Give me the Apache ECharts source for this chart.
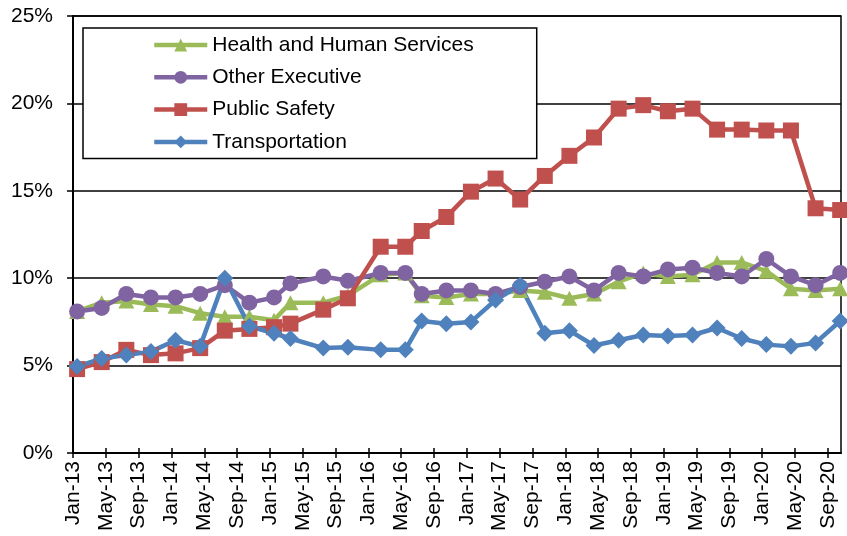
<!DOCTYPE html>
<html><head><meta charset="utf-8">
<script src="https://cdn.jsdelivr.net/npm/echarts@6/dist/echarts.min.js"></script>
<style>html,body{margin:0;padding:0;background:#fff}#c{width:847px;height:536px}</style>
</head><body><div id="c"></div>
<script>
// Observation months (points sit mid-month)
const dates = ['2013-01','2013-04','2013-07','2013-10','2014-01','2014-04','2014-07','2014-10',
  '2015-01','2015-03','2015-07','2015-10','2016-02','2016-05','2016-07','2016-10',
  '2017-01','2017-04','2017-07','2017-10','2018-01','2018-04','2018-07','2018-10',
  '2019-01','2019-04','2019-07','2019-10','2020-01','2020-04','2020-07','2020-10'];
const seriesNames = ['Health and Human Services','Other Executive','Public Safety','Transportation'];
const healthHumanServices = [8.1,8.6,8.7,8.5,8.4,8.0,7.8,7.8,7.6,8.6,8.6,9.0,10.2,10.3,9.0,8.9,
  9.1,9.1,9.3,9.2,8.85,9.1,9.8,10.3,10.1,10.2,10.9,10.9,10.4,9.4,9.3,9.4];
const otherExecutive = [8.1,8.3,9.1,8.9,8.9,9.1,9.6,8.6,8.9,9.7,10.1,9.85,10.3,10.3,9.1,9.3,
  9.3,9.1,9.5,9.8,10.1,9.3,10.3,10.1,10.5,10.6,10.3,10.1,11.1,10.1,9.6,10.3];
const publicSafety = [4.8,5.2,5.9,5.6,5.7,6.0,7.0,7.1,7.2,7.4,8.2,8.85,11.8,11.8,12.7,13.5,
  14.95,15.7,14.5,15.85,17.0,18.05,19.7,19.9,19.55,19.7,18.5,18.5,18.45,18.45,14.0,13.9];
const transportation = [4.95,5.4,5.6,5.8,6.45,6.1,10.0,7.25,6.85,6.55,6.0,6.05,5.9,5.9,7.55,7.4,
  7.5,8.75,9.6,6.85,7.0,6.15,6.45,6.75,6.7,6.75,7.15,6.55,6.2,6.1,6.3,7.55];
const xTickLabels = ['Jan-13','May-13','Sep-13','Jan-14','May-14','Sep-14','Jan-15','May-15','Sep-15',
  'Jan-16','May-16','Sep-16','Jan-17','May-17','Sep-17','Jan-18','May-18','Sep-18',
  'Jan-19','May-19','Sep-19','Jan-20','May-20','Sep-20'];
const yTickLabels = ['0%','5%','10%','15%','20%','25%'];

const monthNames = ['Jan','Feb','Mar','Apr','May','Jun','Jul','Aug','Sep','Oct','Nov','Dec'];
function monthIndexFromDate(s){ const [y,m]=s.split('-').map(Number); return (y-2013)*12+(m-1); }
function monthIndexFromLabel(s){ const [mn,yy]=s.split('-'); return (Number(yy)-13)*12+monthNames.indexOf(mn); }
const tickVals = xTickLabels.map(monthIndexFromLabel);
const labelFor = {}; xTickLabels.forEach((l,i)=>labelFor[tickVals[i]]=l);

const colors = ['#9BBB59','#8064A2','#C0504D','#4F81BD'];
const symbols = ['triangle','circle','rect','diamond'];
const sizes = [[16,15],16,[16,16],[17,17]];
const valuesList = [healthHumanServices, otherExecutive, publicSafety, transportation];

const font = 'Liberation Sans, Arial, sans-serif';
const chart = echarts.init(document.getElementById('c'), null, {renderer:'canvas'});
const xCommon = {type:'value', min:0, max:93.6, position:'bottom', gridIndex:0};
chart.setOption({
  backgroundColor:'#fff',
  animation:false,
  textStyle:{fontFamily:font},
  grid:{left:73, right:6, top:16, bottom:83, show:true, borderColor:'#000', borderWidth:1.5, backgroundColor:'transparent'},
  legend:{
    orient:'vertical', left:83, top:28,
    padding:[6.5,63,6,69], itemGap:11.3, itemWidth:53, itemHeight:16,
    backgroundColor:'#fff', borderColor:'#000', borderWidth:1.5,
    lineStyle:{width:4.5},
    textStyle:{fontSize:21, lineHeight:21, color:'#000', fontFamily:font},
    data:seriesNames
  },
  xAxis:[
    Object.assign({}, xCommon, {
      axisLine:{lineStyle:{color:'#000', width:2}},
      axisTick:{show:true, inside:false, length:5, lineStyle:{color:'#000', width:1.5}, customValues:tickVals},
      axisLabel:{customValues:tickVals, rotate:90, margin:8, fontSize:21, color:'#000', fontFamily:font,
        padding:[4,0,0,0],
        formatter:v=>labelFor[Math.round(v)]||''},
      splitLine:{show:false}
    }),
    Object.assign({}, xCommon, {
      axisLine:{show:false},
      axisTick:{show:true, inside:true, length:5, lineStyle:{color:'#000', width:1.5}, customValues:tickVals},
      axisLabel:{show:false},
      splitLine:{show:false}
    })
  ],
  yAxis:{
    type:'value', min:0, max:25, interval:5,
    axisLine:{show:true, lineStyle:{color:'#000', width:2}},
    axisTick:{show:true, inside:false, length:6, lineStyle:{color:'#000', width:1.5}},
    axisLabel:{margin:20, fontSize:21, color:'#000', fontFamily:font, formatter:v=>yTickLabels[v/5]},
    splitLine:{show:true, lineStyle:{color:'#000', width:1.5}}
  },
  series: seriesNames.map((name,k)=>({
    name, type:'line', xAxisIndex:0, clip:false,
    data: dates.map((d,i)=>[monthIndexFromDate(d)+0.5, valuesList[k][i]]),
    symbol:symbols[k], symbolSize:sizes[k],
    lineStyle:{color:colors[k], width:4.5},
    itemStyle:{color:colors[k]},
    color:colors[k]
  }))
});
</script></body></html>
